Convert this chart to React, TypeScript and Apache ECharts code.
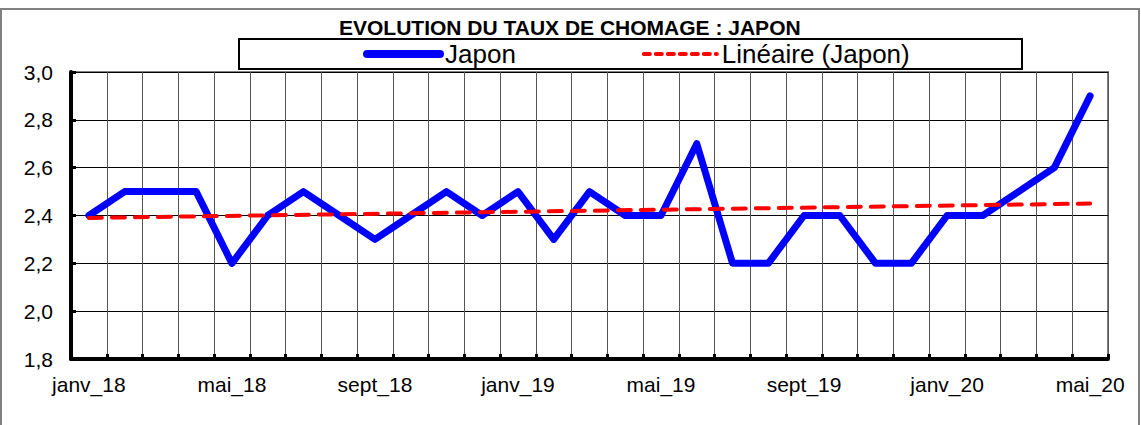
import React, { useEffect, useRef } from "react";
import * as echarts from "echarts";

const months = [
  "janv_18", "févr_18", "mars_18", "avr_18", "mai_18", "juin_18", "juil_18", "août_18", "sept_18", "oct_18", "nov_18", "déc_18",
  "janv_19", "févr_19", "mars_19", "avr_19", "mai_19", "juin_19", "juil_19", "août_19", "sept_19", "oct_19", "nov_19", "déc_19",
  "janv_20", "févr_20", "mars_20", "avr_20", "mai_20",
];

const japon = [
  2.4, 2.5, 2.5, 2.5, 2.2, 2.4, 2.5, 2.4, 2.3, 2.4, 2.5, 2.4,
  2.5, 2.3, 2.5, 2.4, 2.4, 2.7, 2.2, 2.2, 2.4, 2.4, 2.2, 2.2,
  2.4, 2.4, 2.5, 2.6, 2.9,
];

// Linear trend endpoints
const trendStart = 2.39;
const trendEnd = 2.45;
const trend: (number | null)[] = months.map((_, i) =>
  i === 0 ? trendStart : i === months.length - 1 ? trendEnd : null
);

const yTicks = { min: 1.8, max: 3.0, interval: 0.2 };

const FONT = "'Liberation Sans', Arial, sans-serif";

export default function App() {
  const ref = useRef<HTMLDivElement>(null);

  useEffect(() => {
    if (!ref.current) return;
    const chart = echarts.init(ref.current, null, { renderer: "svg" });
    chart.setOption({
      animation: false,
      backgroundColor: "#ffffff",
      textStyle: { fontFamily: FONT },
      title: {
        text: "EVOLUTION DU TAUX DE CHOMAGE : JAPON",
        left: 339,
        top: 17,
        padding: 0,
        textStyle: { fontFamily: FONT, fontSize: 21, fontWeight: "bold", color: "#000" },
      },
      graphic: [
        {
          type: "rect",
          z: 0,
          silent: true,
          shape: { x: 1, y: 9, width: 1138, height: 440 },
          style: { fill: "none", stroke: "#808080", lineWidth: 2 },
        },
        {
          type: "rect",
          z: 0,
          silent: true,
          shape: { x: 239, y: 39, width: 783, height: 30 },
          style: { fill: "none", stroke: "#000", lineWidth: 2 },
        },
      ],
      legend: {
        left: 363,
        top: 39,
        padding: 0,
        itemWidth: 73,
        itemHeight: 8,
        itemGap: 126,
        textStyle: { fontFamily: FONT, fontSize: 26, color: "#000", lineHeight: 30 },
        data: [
          {
            name: "Japon",
            itemStyle: { color: "rgba(0,0,0,0)", borderWidth: 0, opacity: 0 },
            lineStyle: { color: "#0000ff", width: 8, cap: "round" },
          },
          {
            name: "Linéaire (Japon)",
            itemStyle: { color: "rgba(0,0,0,0)", borderWidth: 0, opacity: 0 },
            lineStyle: { color: "#ff0000", width: 4, type: [6, 6], cap: "round" },
          },
        ],
      },
      grid: {
        left: 71,
        right: 33,
        top: 72,
        bottom: 66,
        show: true,
        borderColor: "#808080",
        borderWidth: 2,
        backgroundColor: "transparent",
      },
      xAxis: {
        type: "category",
        data: months,
        boundaryGap: true,
        axisLine: { show: true, lineStyle: { color: "#000", width: 4 } },
        axisTick: { show: true, inside: true, interval: 0, length: 5, lineStyle: { color: "#000", width: 3 } },
        axisLabel: { interval: 3, margin: 15, fontFamily: FONT, fontSize: 21, color: "#000" },
        splitLine: { show: true, interval: 0, lineStyle: { color: "#555", width: 1 } },
      },
      yAxis: {
        type: "value",
        min: yTicks.min,
        max: yTicks.max,
        interval: yTicks.interval,
        axisLine: { show: true, lineStyle: { color: "#000", width: 4 } },
        axisTick: { show: true, inside: true, length: 5, lineStyle: { color: "#000", width: 3 } },
        axisLabel: {
          margin: 18,
          fontFamily: FONT,
          fontSize: 21,
          color: "#000",
          formatter: (v: number) => v.toFixed(1).replace(".", ","),
        },
        splitLine: { show: true, lineStyle: { color: "#000", width: 1 } },
      },
      series: [
        {
          name: "Japon",
          type: "line",
          data: japon,
          symbol: "none",
          lineStyle: { color: "#0000ff", width: 7, join: "round", cap: "round" },
          itemStyle: { color: "#0000ff" },
          z: 3,
        },
        {
          name: "Linéaire (Japon)",
          type: "line",
          data: trend,
          connectNulls: true,
          symbol: "none",
          lineStyle: { color: "#ff0000", width: 4, type: [13, 10], cap: "round" },
          itemStyle: { color: "#ff0000" },
          z: 4,
        },
      ],
    });
    return () => chart.dispose();
  }, []);

  return (
    <div
      ref={ref}
      style={{ position: "fixed", left: 0, top: 0, width: 1141, height: 425, background: "#fff" }}
    />
  );
}
